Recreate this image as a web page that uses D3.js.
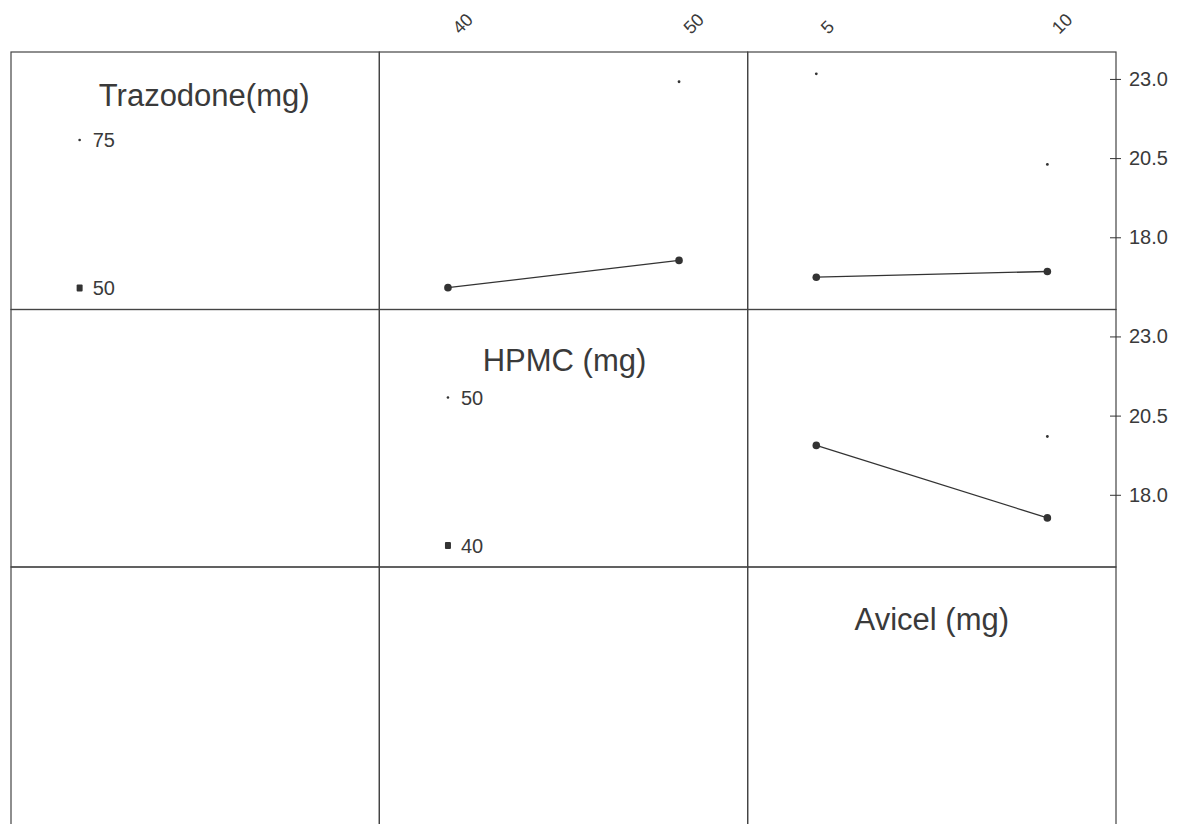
<!DOCTYPE html>
<html>
<head>
<meta charset="utf-8">
<script src="https://cdn.jsdelivr.net/npm/d3@7"></script>
<style>
  body { margin: 0; background: #fff; }
  svg { display: block; }
  text { font-family: "Liberation Sans", Arial, sans-serif; fill: #3a3a3a; }
</style>
</head>
<body>
<div id="chart"></div>
<script>
// factors and their levels
const factors = ["Trazodone(mg)", "HPMC (mg)", "Avicel (mg)"]
const trazLevels = [50, 75]
const hpmcLevels = [40, 50]
const avicelLevels = [5, 10]
const levels = [trazLevels, hpmcLevels, avicelLevels]

// mean response, one array per trace level (null = off the panel)
const traz50ByHpmc = [16.41, 17.27]
const traz75ByHpmc = [null, 22.91]
const traz50ByAvicel = [16.74, 16.92]
const traz75ByAvicel = [23.16, 20.30]
const hpmc40ByAvicel = [19.56, 17.27]
const hpmc50ByAvicel = [null, 19.84]

const yTicks = [18.0, 20.5, 23.0]
const yDomain = [15.72, 23.85]

// panels: row = trace factor, col = x factor
const panels = [
  {row: 0, col: 1, series: [{values: traz50ByHpmc, kind: "solid"}, {values: traz75ByHpmc, kind: "dot"}]},
  {row: 0, col: 2, series: [{values: traz50ByAvicel, kind: "solid"}, {values: traz75ByAvicel, kind: "dot"}]},
  {row: 1, col: 2, series: [{values: hpmc40ByAvicel, kind: "solid"}, {values: hpmc50ByAvicel, kind: "dot"}]}
]

const width = 1179, height = 824
const gridLeft = 11, gridTop = 52
const colW = (1116 - gridLeft) / 3
const rowH = 257.5
const ink = "#333"
// small per-title nudges so the diagonal titles sit where the original has them
const titleDx = [9, 1, 0]
const titleDy = [54, 61, 63]

const svg = d3.select("#chart").append("svg")
    .attr("width", width)
    .attr("height", height)

const xScale = col => d3.scalePoint()
    .domain(levels[col])
    .range([gridLeft + col * colW, gridLeft + (col + 1) * colW])
    .padding(0.297)

const yScale = row => d3.scaleLinear()
    .domain(yDomain)
    .range([gridTop + (row + 1) * rowH, gridTop + row * rowH])

// cell frames
for (let r = 0; r < 3; r++) {
  for (let c = 0; c < 3; c++) {
    svg.append("rect")
      .attr("x", gridLeft + c * colW)
      .attr("y", gridTop + r * rowH)
      .attr("width", colW)
      .attr("height", r === 2 ? rowH + 10 : rowH)
      .attr("fill", "none")
      .attr("stroke", "#444")
      .attr("stroke-width", 1.2)
  }
}

// top level labels, rotated
for (const col of [1, 2]) {
  const x = xScale(col)
  svg.append("g").selectAll("text")
    .data(levels[col])
    .join("text")
      .attr("transform", d => `translate(${x(d) + 12},${gridTop - 17}) rotate(-45)`)
      .attr("font-size", 18)
      .text(d => d)
}

// right y axes
for (const row of [0, 1]) {
  const g = svg.append("g")
      .attr("transform", `translate(${gridLeft + 3 * colW},0)`)
      .call(d3.axisRight(yScale(row)).tickValues(yTicks).tickFormat(d3.format(".1f")).tickSize(5).tickPadding(8))
  g.select(".domain").remove()
  g.selectAll(".tick line").attr("x1", -6).attr("stroke", ink)
  g.selectAll(".tick text").attr("font-size", 20).attr("fill", "#3a3a3a")
}

// factor titles and legends on the diagonal
factors.forEach((name, i) => {
  const cx = gridLeft + (i + 0.5) * colW
  const y0 = gridTop + i * rowH
  svg.append("text")
    .attr("x", cx + titleDx[i])
    .attr("y", y0 + titleDy[i])
    .attr("text-anchor", "middle")
    .attr("font-size", 31)
    .text(name)

  if (i === 2) return
  const lx = xScale(i)(levels[i][0])
  const items = [
    {label: levels[i][1], y: y0 + 88, kind: "dot"},
    {label: levels[i][0], y: y0 + 236, kind: "solid"}
  ]
  for (const it of items) {
    if (it.kind === "dot") {
      svg.append("circle").attr("cx", lx).attr("cy", it.y).attr("r", 1.3).attr("fill", ink)
    } else {
      svg.append("rect").attr("x", lx - 3).attr("y", it.y - 3.5).attr("width", 6).attr("height", 7)
        .attr("rx", 1).attr("fill", ink)
    }
    svg.append("text")
      .attr("x", lx + 13)
      .attr("y", it.y + 7)
      .attr("font-size", 20)
      .text(it.label)
  }
})

// interaction panels
for (const p of panels) {
  const x = xScale(p.col), y = yScale(p.row)
  const lv = levels[p.col]
  const g = svg.append("g")
  for (const s of p.series) {
    const pts = s.values.map((v, i) => ({x: lv[i], v})).filter(d => d.v != null)
    if (s.kind === "solid") {
      g.append("path")
        .datum(pts)
        .attr("fill", "none")
        .attr("stroke", ink)
        .attr("stroke-width", 1.3)
        .attr("d", d3.line().x(d => x(d.x)).y(d => y(d.v)))
      g.selectAll(null)
        .data(pts)
        .join("circle")
          .attr("cx", d => x(d.x))
          .attr("cy", d => y(d.v))
          .attr("r", 3.8)
          .attr("fill", ink)
    } else {
      g.selectAll(null)
        .data(pts)
        .join("circle")
          .attr("cx", d => x(d.x))
          .attr("cy", d => y(d.v))
          .attr("r", 1.4)
          .attr("fill", ink)
    }
  }
}
</script>
</body>
</html>
